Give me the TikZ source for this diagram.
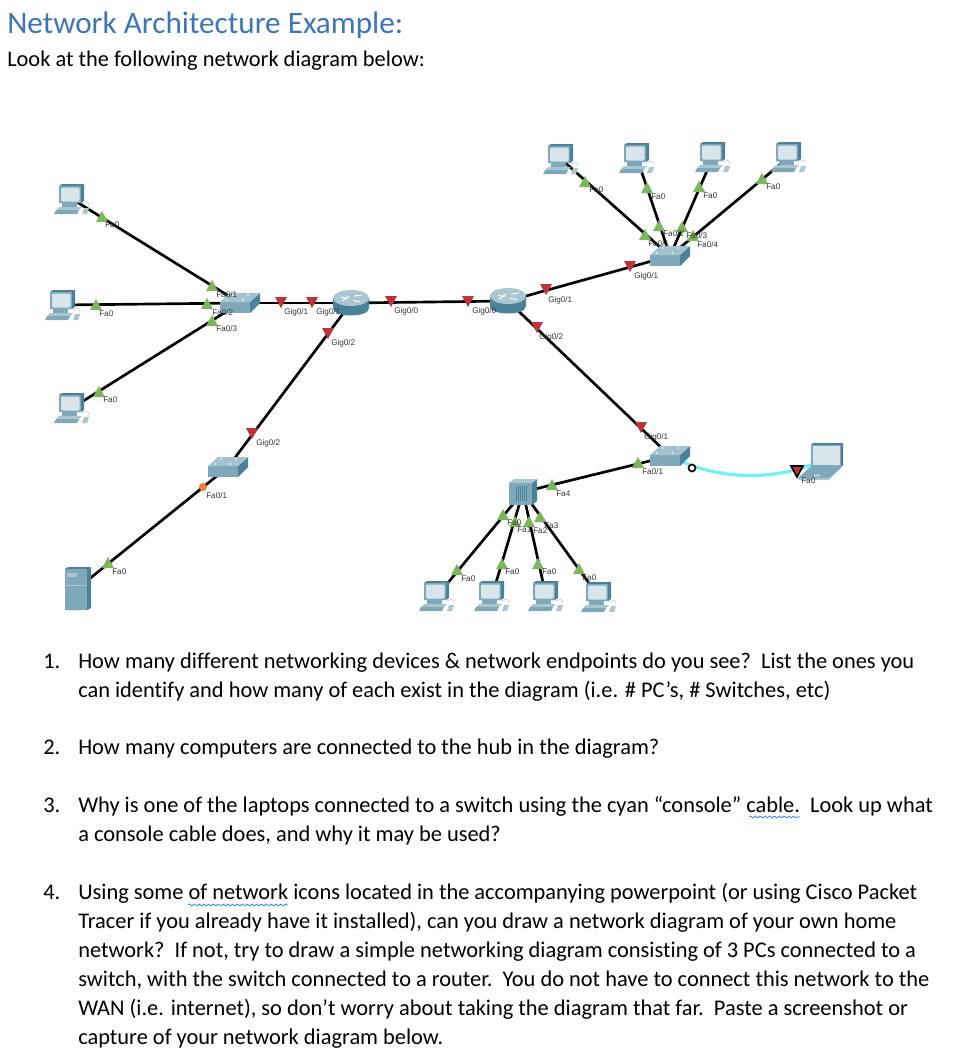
\documentclass[tikz,border=0pt]{standalone}
\usepackage{fontspec}
\setmainfont[Ligatures=NoCommon]{Carlito}
\newfontfamily\portfont{Liberation Sans}
\usetikzlibrary{decorations.pathmorphing}
\definecolor{titleblue}{HTML}{3E75B5}
\definecolor{devlight}{HTML}{D8E6EC}
\definecolor{devmid}{HTML}{7FA9BA}
\definecolor{devdark}{HTML}{4A8399}
\definecolor{devpale}{HTML}{A9C6D1}
\definecolor{upgreen}{HTML}{7CB65A}
\definecolor{downred}{HTML}{BE3338}
\definecolor{dotorange}{HTML}{EE8030}
\definecolor{consolecyan}{HTML}{70F0F8}
\tikzset{
    link/.style={line width=2pt, black},
    portup/.style={fill=upgreen},
    portdown/.style={fill=downred},
    portlbl/.style={anchor=west, inner sep=0pt, text=black!80, font=\portfont\fontsize{6.1}{7}\selectfont},
    bodytxt/.style={anchor=base west, inner sep=0pt, font=\fontsize{16.8}{20}\selectfont},
    wavy/.style={draw=blue!55!cyan!80!gray, line width=0.5pt, decorate, decoration={snake, amplitude=0.7pt, segment length=3.6pt}},
    pcicon/.pic={
        \fill[devdark] (-13,-13) -- (-10,-15) -- (12,-15) -- (12,2) -- (9,4) -- (-13,4) -- cycle;
        \fill[devmid] (-13,-13) rectangle (9,4);
        \fill[devlight, rounded corners=1] (-11,-11.5) rectangle (7.5,2.5);
        \fill[devmid] (-10,4) rectangle (5,8);
        \fill[devpale] (-13,8) -- (10,8) -- (7,11) -- (-16,11) -- cycle;
        \fill[devmid] (-16,11) -- (7,11) -- (5,15) -- (-18,15) -- cycle;
        \draw[devpale, line width=0.4pt] (10,5) .. controls (14,2) and (18,4) .. (17,7);
        \fill[devpale] (12,9) -- (17,9) -- (15,15) -- (10,15) -- cycle;
    },
    servericon/.pic={
        \fill[devdark] (-13,-19) -- (-10,-21) -- (13,-21) -- (13,20) -- (9,22) -- (-13,22) -- cycle;
        \fill[devmid] (-13,-19) rectangle (9,22);
        \fill[devpale] (-11,-15) rectangle (-1,-11);
        \draw[devpale, line width=0.4pt] (-13,-3) -- (9,-3);
    },
    switchicon/.pic={
        \fill[devdark] (10,-1) -- (20,-10) -- (20,0) -- (10,10) -- cycle;
        \fill[devmid] (-20,-1) rectangle (10,10);
        \fill[devpale!85!devmid] (-20,-1) -- (-10,-10) -- (20,-10) -- (10,-1) -- cycle;
        \foreach \dx/\dy in {-13/-3, -7/-8, 8/-8, 3/-3}
            \fill[white] (\dx,\dy) circle (0.8);
    },
    routericon/.pic={
        \shade[left color=devdark, middle color=devlight!50!white, right color=devdark]
            (-18,-5) -- (-18,5) .. controls (-18,15) and (18,15) .. (18,5) -- (18,-5) -- cycle;
        \fill[devpale] (0,-5) ellipse [x radius=18, y radius=8];
        \draw[white, line width=0.7pt] (-10,-6) -- (-3,-4) (3,-7) -- (11,-8) (-9,-2) -- (-2,-7) (2,-3) -- (9,-1);
    },
    hubicon/.pic={
        \fill[devdark] (9,-9) -- (14,-13) -- (14,9) -- (9,13) -- cycle;
        \fill[devpale] (-14,-9) -- (-9,-13) -- (14,-13) -- (9,-9) -- cycle;
        \fill[devmid] (-14,-9) rectangle (9,13);
        \foreach \dx in {-7,-5,...,3}
            \draw[devdark, line width=0.4pt] (\dx,-6) -- (\dx,9);
    },
    laptopicon/.pic={
        \fill[devdark] (-9,-16) -- (-7,-18) -- (23,-18) -- (23,5) -- (-9,5) -- cycle;
        \fill[devmid] (-9,-16) rectangle (21,6);
        \fill[devlight] (-7,-15) rectangle (20,4);
        \fill[devmid] (-10,6) -- (22,6) -- (10,17) -- (-22,17) -- cycle;
        \fill[devpale] (-22,17) -- (10,17) -- (9,19) -- (-21,19) -- cycle;
        \fill[devpale] (-6,13) rectangle (0,16);
    },
}
\begin{document}
\begin{tikzpicture}[x=0.75pt, y=-0.75pt]
    \useasboundingbox (0,0) rectangle (978,1064);

    % Titulo y frase de entrada
    \node[anchor=base west, inner sep=0pt, text=titleblue, font=\fontsize{23.4}{28}\selectfont] (title) at (7,33) {Network Architecture Example:};
    \node[bodytxt] (intro) at (7,66) {Look at the following network diagram below:};

    % Posiciones de los equipos
    \coordinate (pcLa) at (72,199);
    \coordinate (pcLb) at (63,305);
    \coordinate (pcLc) at (72,408);
    \coordinate (srvA) at (78,588);
    \coordinate (swA) at (240,303);
    \coordinate (swB) at (670,256);
    \coordinate (swC) at (228,467);
    \coordinate (swD) at (670,456);
    \coordinate (rtA) at (351,303);
    \coordinate (rtB) at (508,301);
    \coordinate (hubA) at (523,492);
    \coordinate (lapA) at (820,461);
    \coordinate (pcTa) at (561,159);
    \coordinate (pcTb) at (637,158);
    \coordinate (pcTc) at (713,157);
    \coordinate (pcTd) at (789,157);
    \coordinate (pcBa) at (437,596);
    \coordinate (pcBb) at (492,596);
    \coordinate (pcBc) at (546,596);
    \coordinate (pcBd) at (599,597);

    % Cables
    \draw[link] (pcLa) -- (swA);
    \draw[link] (pcLb) -- (swA);
    \draw[link] (pcLc) -- (swA);
    \draw[link] (swA) -- (rtA);
    \draw[link] (rtA) -- (rtB);
    \draw[link] (rtA) -- (swC);
    \draw[link] (swC) -- (srvA);
    \draw[link] (rtB) -- (swB);
    \draw[link] (rtB) -- (swD);
    \draw[link] (swD) -- (hubA);
    \foreach \pc in {pcTa,pcTb,pcTc,pcTd}
        \draw[link] (\pc) -- (swB);
    \foreach \pc in {pcBa,pcBb,pcBc,pcBd}
        \draw[link] (\pc) -- (hubA);

    % Cable de consola
    \draw[consolecyan, line width=2.4pt] (swD) .. controls (715,480) and (775,482) .. (lapA);

    % Iconos
    \foreach \pc in {pcLa,pcLb,pcLc,pcTa,pcTb,pcTc,pcTd,pcBa,pcBb,pcBc,pcBd}
        \pic at (\pc) {pcicon};
    \foreach \sw in {swA,swB,swC,swD}
        \pic at (\sw) {switchicon};
    \pic at (rtA) {routericon};
    \pic at (rtB) {routericon};
    \pic at (srvA) {servericon};
    \pic at (hubA) {hubicon};
    \pic at (lapA) {laptopicon};

    % Triangulos verdes de enlace activo
    \foreach \x/\y in {102/217, 212/286, 96/305, 207/304, 212/321, 99/392, 108/563, 585/182, 647/188, 699/187, 762/179, 645/235, 659/226, 682/227, 693/236, 638/463, 503/515, 515/522, 529/522, 540/517, 552/485, 457/570, 502/564, 538/564, 579/569}
        \fill[portup] (\x-6,\y+5) -- (\x+6,\y+5) -- (\x,\y-6) -- cycle;

    % Triangulos rojos
    \foreach \x/\y in {281/302, 312/302, 328/333, 391/301, 468/301, 546/289, 537/327, 630/266, 641/427, 252/433}
        \fill[portdown] (\x-6,\y-5) -- (\x+6,\y-5) -- (\x,\y+6) -- cycle;
    \fill[portdown, draw=black, line width=1.2pt] (791,466) -- (803,466) -- (797,477) -- cycle;

    % Marcas sueltas
    \fill[dotorange] (203,487) circle (4);
    \draw[black, fill=white, line width=1.2pt] (692,468) circle (3.5);

    % Etiquetas de puertos
    \foreach \x/\y/\t [count=\i] in {105/225/Fa0, 216/295/{Fa0/1}, 99/314/Fa0, 212/313/{Fa0/2}, 216/329/{Fa0/3}, 284/312/{Gig0/1}, 316/312/{Gig0/1}, 331/343/{Gig0/2},
        394/311/{Gig0/0}, 472/311/{Gig0/0}, 548/300/{Gig0/1}, 539/337/{Gig0/2},
        589/190/Fa0, 651/197/Fa0, 703/196/Fa0, 766/187/Fa0, 648/244/{Fa0/1}, 663/234/{Fa0/2}, 686/236/{Fa0/3}, 697/245/{Fa0/4}, 634/276/{Gig0/1},
        556/494/Fa4, 507/523/Fa0, 517/530/Fa1, 533/531/Fa2, 544/526/Fa3, 461/579/Fa0, 505/572/Fa0, 542/572/Fa0, 582/578/Fa0,
        644/437/{Gig0/1}, 642/472/{Fa0/1}, 801/481/Fa0, 103/400/Fa0, 256/443/{Gig0/2}, 206/496/{Fa0/1}, 112/572/Fa0}
        \node[portlbl] (lbl\i) at (\x,\y) {\t};

    % Numeros de las preguntas
    \foreach \y/\t [count=\i] in {668/1., 754/2., 812/3., 899/4.}
        \node[bodytxt] (num\i) at (43,\y) {\t};

    % Lineas de las preguntas
    \foreach \y/\t [count=\i] in {
        668/{How many different networking devices \& network endpoints do you see?\ \ List the ones you},
        697/{can identify and how many of each exist in the diagram (i.e. \# PC’s, \# Switches, etc)},
        754/{How many computers are connected to the hub in the diagram?},
        812/{Why is one of the laptops connected to a switch using the cyan “console” cable.\ \ Look up what},
        841/{a console cable does, and why it may be used?},
        899/{Using some of network icons located in the accompanying powerpoint (or using Cisco Packet},
        928/{Tracer if you already have it installed), can you draw a network diagram of your own home},
        957/{network?\ \ If not, try to draw a simple networking diagram consisting of 3 PCs connected to a},
        986/{switch, with the switch connected to a router.\ \ You do not have to connect this network to the},
        1015/{WAN (i.e. internet), so don’t worry about taking the diagram that far.\ \ Paste a screenshot or},
        1044/{capture of your network diagram below.}}
        \node[bodytxt] (line\i) at (78,\y) {\t};

    % Subrayado ondulado
    \draw[wavy] (749,817) -- (800,817);
    \draw[wavy] (188,905) -- (288,905);
\end{tikzpicture}
\end{document}
